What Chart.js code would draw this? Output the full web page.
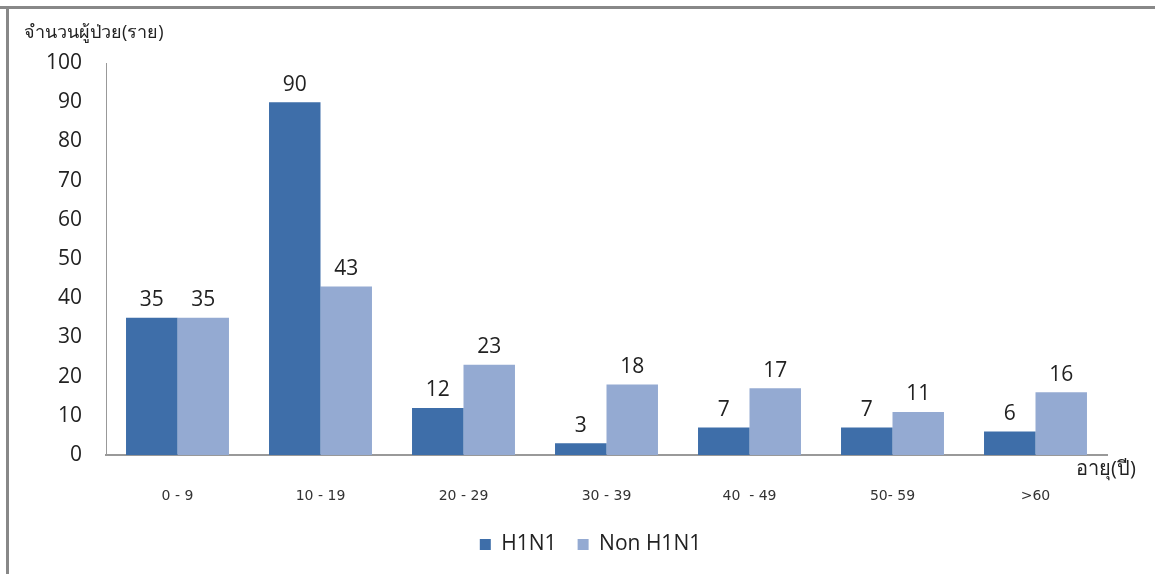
<!DOCTYPE html>
<html>
<head>
<meta charset="utf-8">
<script src="https://cdn.jsdelivr.net/npm/chart.js@4"></script>
<style>
  html, body { margin: 0; padding: 0; background: #fff; }
  #wrap { width: 1155px; height: 574px; position: relative; }
</style>
</head>
<body>
<div id="wrap"><canvas id="ageChart"></canvas></div>
<script>
const ageGroups = ['0 - 9', '10 - 19', '20 - 29', '30 - 39', '40  - 49', '50- 59', '>60'];
const h1n1 = [35, 90, 12, 3, 7, 7, 6];
const nonH1n1 = [35, 43, 23, 18, 17, 11, 16];
const yTicks = [0, 10, 20, 30, 40, 50, 60, 70, 80, 90, 100];

const yTitle = 'จำนวนผู้ป่วย(ราย)';
const xTitle = 'อายุ(ปี)';
const fontFamily = '"Open Sans", "Noto Sans", "DejaVu Sans", sans-serif';

// frame, axis titles and the value above each bar
const extras = {
  id: 'extras',
  afterLayout(chart) {
    // centre the legend under the plot area rather than the canvas
    const lg = chart.legend;
    const shift = (chart.chartArea.left + chart.chartArea.right) / 2 - (lg.left + lg.right) / 2 - 16;
    lg.left += shift;
    lg.right += shift;
  },
  beforeDraw(chart) {
    const ctx = chart.ctx;
    ctx.save();
    ctx.fillStyle = '#888';
    ctx.fillRect(0, 6, chart.width, 3);
    ctx.fillRect(6, 6, 3, chart.height - 6);
    ctx.restore();
  },
  afterDatasetsDraw(chart) {
    const ctx = chart.ctx;
    ctx.save();
    ctx.fillStyle = '#222';
    ctx.font = '21px ' + fontFamily;
    ctx.textAlign = 'center';
    ctx.textBaseline = 'bottom';
    chart.data.datasets.forEach((ds, i) => {
      chart.getDatasetMeta(i).data.forEach((bar, j) => {
        ctx.fillText(ds.data[j], bar.x, bar.y - 7);
      });
    });
    ctx.font = '18px ' + fontFamily;
    ctx.textAlign = 'left';
    ctx.textBaseline = 'middle';
    ctx.fillText(yTitle, 24, 33);
    ctx.font = '20px ' + fontFamily;
    ctx.fillText(xTitle, 1076, 469);
    ctx.restore();
  }
};

new Chart(document.getElementById('ageChart'), {
  type: 'bar',
  data: {
    labels: ageGroups,
    datasets: [
      { label: 'H1N1', data: h1n1, backgroundColor: '#3e6ea9' },
      { label: 'Non H1N1', data: nonH1n1, backgroundColor: '#94aad2' }
    ]
  },
  options: {
    responsive: true,
    maintainAspectRatio: false,
    animation: false,
    layout: { padding: { top: 63, right: 48, bottom: 9, left: 0 } },
    datasets: { bar: { categoryPercentage: 0.72, barPercentage: 1 } },
    scales: {
      x: {
        grid: { display: false, drawTicks: false },
        border: { color: '#999', width: 2 },
        ticks: { color: '#333', padding: 33, maxRotation: 0, font: { size: 14, family: '"DejaVu Sans", sans-serif' } },
        afterFit(scale) { scale.height = 58; }
      },
      y: {
        min: 0,
        max: 100,
        afterBuildTicks(scale) { scale.ticks = yTicks.map(v => ({ value: v })); },
        grid: { display: false, drawTicks: false },
        border: { color: '#999', width: 1 },
        ticks: { color: '#222', padding: 24, font: { size: 21, family: fontFamily } },
        afterFit(scale) { scale.width = 106; }
      }
    },
    plugins: {
      legend: {
        position: 'bottom',
        labels: {
          boxWidth: 11,
          boxHeight: 11,
          padding: 21,
          color: '#222',
          font: { size: 21, family: fontFamily }
        }
      },
      tooltip: { enabled: false }
    }
  },
  plugins: [extras]
});
</script>
</body>
</html>
